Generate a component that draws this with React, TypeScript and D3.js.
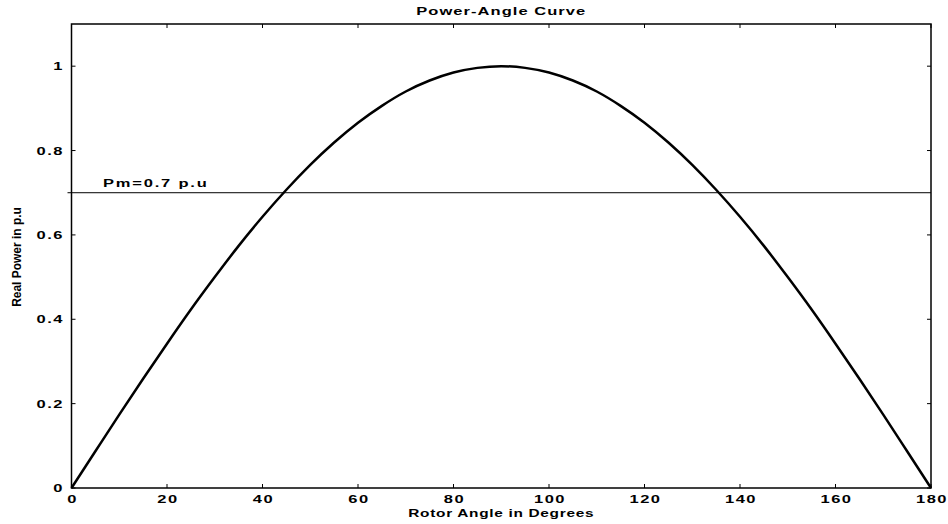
import React from "react";
import * as d3 from "d3";

const angles = [0,5,10,15,20,25,30,35,40,45,50,55,60,65,70,75,80,85,90,95,100,105,110,115,120,125,130,135,140,145,150,155,160,165,170,175,180];
const power = [0,0.087,0.174,0.259,0.342,0.423,0.5,0.574,0.643,0.707,0.766,0.819,0.866,0.906,0.94,0.966,0.985,0.996,1,0.996,0.985,0.966,0.94,0.906,0.866,0.819,0.766,0.707,0.643,0.574,0.5,0.423,0.342,0.259,0.174,0.087,0];
const xTicks = [0,20,40,60,80,100,120,140,160,180];
const yTicks = [0,0.2,0.4,0.6,0.8,1];
const pm = 0.7;
const titleText = "Power-Angle Curve";
const xLabel = "Rotor Angle in Degrees";
const yLabel = "Real Power in p.u";
const pmLabel = "Pm=0.7 p.u";

const font = "'Liberation Sans', Arial, sans-serif";

function WText(props: { x: number; y: number; sx: number; anchor?: string; size: number; bold?: boolean; spacing?: number; rotate?: number; children: any }) {
  const { x, y, sx, anchor = "start", size, bold = true, spacing = 0, rotate = 0, children } = props;
  return (
    <text
      transform={`translate(${x},${y}) rotate(${rotate}) scale(${sx},1)`}
      textAnchor={anchor as any}
      fontFamily={font}
      fontWeight={bold ? "bold" : "normal"}
      fontSize={size}
      letterSpacing={spacing}
      fill="#000"
    >
      {children}
    </text>
  );
}

export default function App() {
  const W = 948, H = 524;
  const L = 71.5, R = 931, T = 24, B = 488;
  const x = d3.scaleLinear().domain([0, 180]).range([L, R]);
  const y = d3.scaleLinear().domain([0, 1.1]).range([B, T]);
  const line = d3.line<number>().x((_, i) => x(angles[i])).y((d) => y(d)).curve(d3.curveNatural);
  const tk = 4;
  return (
    <svg width={W} height={H} style={{ position: "absolute", left: 0, top: 0, background: "#fff" }}>
      <rect x={0} y={0} width={W} height={H} fill="#fff" />
      <WText x={(L + R) / 2} y={15} sx={1.5} anchor="middle" size={11} spacing={0.7}>{titleText}</WText>
      {xTicks.map((t) => (
        <g key={"x" + t}>
          <line x1={x(t)} x2={x(t)} y1={B} y2={B - tk} stroke="#000" strokeWidth={1} />
          <line x1={x(t)} x2={x(t)} y1={T} y2={T + tk} stroke="#000" strokeWidth={1} />
          <WText x={x(t) + 1} y={503} sx={1.5} anchor="middle" size={11} spacing={1}>{t}</WText>
        </g>
      ))}
      {yTicks.map((t) => (
        <g key={"y" + t}>
          <line x1={L} x2={L + tk} y1={y(t)} y2={y(t)} stroke="#000" strokeWidth={1} />
          <line x1={R} x2={R - tk} y1={y(t)} y2={y(t)} stroke="#000" strokeWidth={1} />
          <WText x={64} y={y(t) + 4} sx={1.5} anchor="end" size={11} spacing={1}>{t}</WText>
        </g>
      ))}
      <rect x={L} y={T} width={R - L} height={B - T} fill="none" stroke="#000" strokeWidth={1.5} />
      <line x1={L - 4} x2={R} y1={y(pm)} y2={y(pm)} stroke="#000" strokeWidth={1} />
      <WText x={103} y={187} sx={1.5} size={11} spacing={1.2}>{pmLabel}</WText>
      <path d={line(power) || ""} fill="none" stroke="#000" strokeWidth={2.5} />
      <WText x={(L + R) / 2} y={517} sx={1.4} anchor="middle" size={11} spacing={0.5}>{xLabel}</WText>
      <WText x={21} y={257} sx={0.92} rotate={-90} anchor="middle" size={13}>{yLabel}</WText>
    </svg>
  );
}
